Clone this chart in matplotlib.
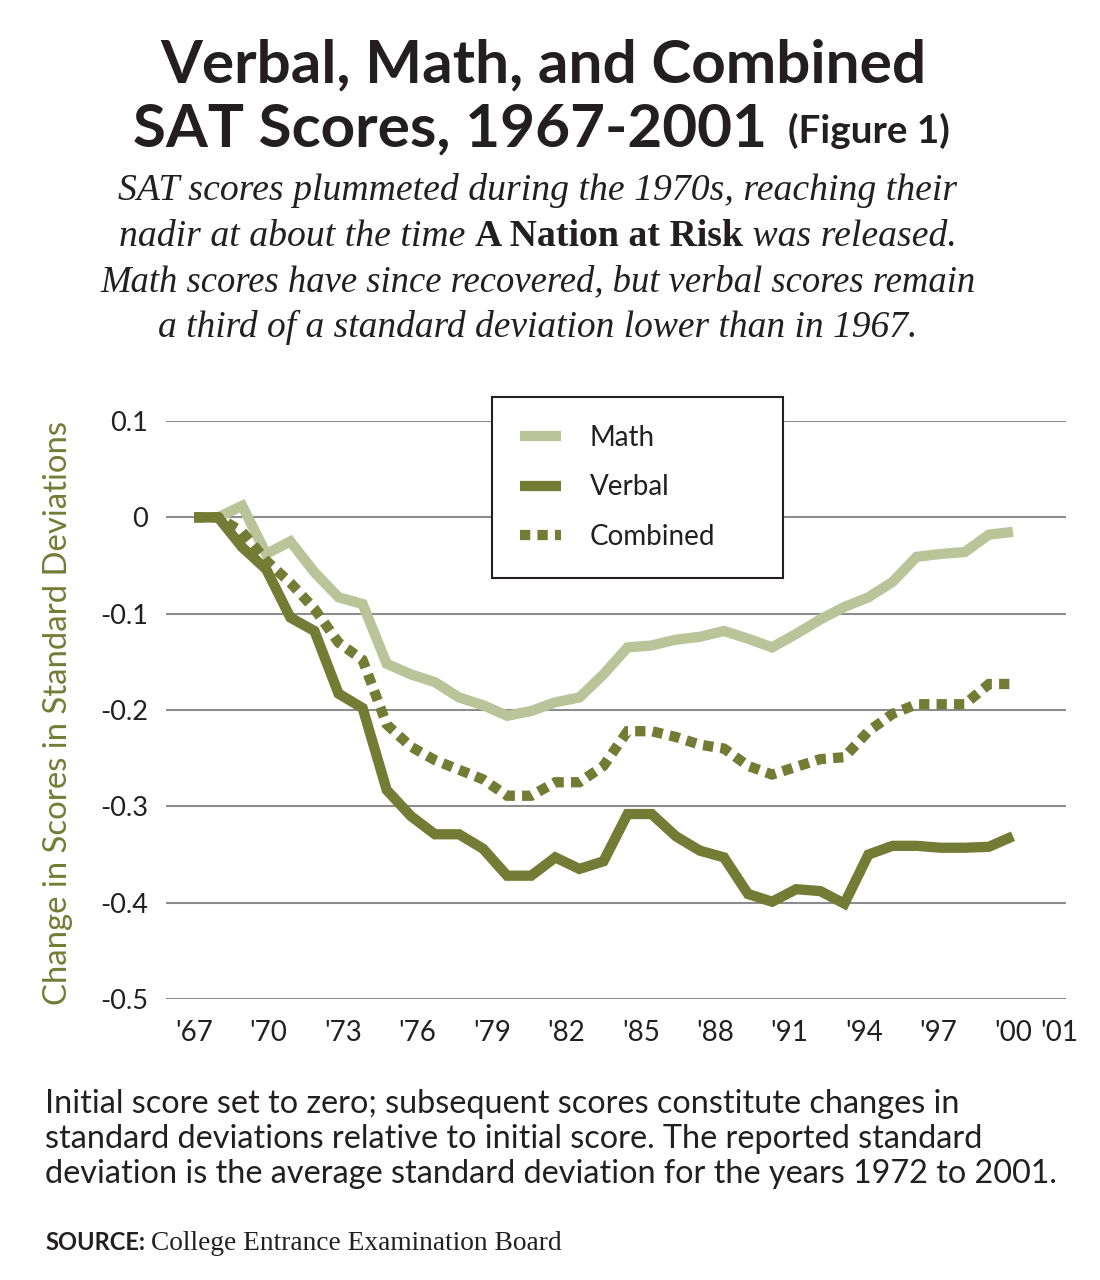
import numpy as np
import matplotlib
matplotlib.use("Agg")
import matplotlib.pyplot as plt
from matplotlib import font_manager as fm

# ---------------- data ----------------
years = list(range(1967, 2002))
math_sd = [0, 0, 0.012, -0.038, -0.025, -0.057, -0.083, -0.090, -0.152, -0.163,
           -0.171, -0.187, -0.195, -0.206, -0.201, -0.192, -0.187, -0.163, -0.135, -0.133,
           -0.127, -0.124, -0.118, -0.126, -0.135, -0.121, -0.106, -0.093, -0.083, -0.067,
           -0.041, -0.038, -0.036, -0.018, -0.015]
verbal_sd = [0, 0, -0.031, -0.054, -0.104, -0.118, -0.183, -0.198, -0.283, -0.310,
             -0.329, -0.329, -0.344, -0.372, -0.372, -0.353, -0.365, -0.357, -0.308, -0.308,
             -0.331, -0.346, -0.353, -0.391, -0.399, -0.386, -0.388, -0.401, -0.350, -0.341,
             -0.341, -0.343, -0.343, -0.342, -0.331]
combined_sd = [0, 0, -0.015, -0.045, -0.068, -0.095, -0.130, -0.148, -0.215, -0.238,
               -0.252, -0.262, -0.272, -0.289, -0.289, -0.275, -0.275, -0.258, -0.222, -0.222,
               -0.228, -0.236, -0.240, -0.258, -0.267, -0.259, -0.251, -0.249, -0.222, -0.204,
               -0.194, -0.194, -0.194, -0.173, -0.173]
series_names = ["Math", "Verbal", "Combined"]
x_tick_labels = ["'67", "'70", "'73", "'76", "'79", "'82", "'85", "'88", "'91", "'94", "'97", "'00", "'01"]
y_ticks = [0.1, 0, -0.1, -0.2, -0.3, -0.4, -0.5]
y_tick_labels = ["0.1", "0", "-0.1", "-0.2", "-0.3", "-0.4", "-0.5"]

# ---------------- fonts ----------------
def has_font(name):
    try:
        fm.findfont(fm.FontProperties(family=name), fallback_to_default=False)
        return True
    except Exception:
        return False

SANS = "Lato" if has_font("Lato") else "DejaVu Sans"
SERIF = "Liberation Serif" if has_font("Liberation Serif") else "DejaVu Serif"

INK = "#231f20"
OLIVE = "#737c34"
SAGE = "#bbc398"
GRID = "#8c8c8c"

W, H = 1100, 1280
fig = plt.figure(figsize=(W / 100, H / 100), dpi=100)
fig.patch.set_facecolor("white")

def fx(x):
    return x / W

def fy(y):
    return 1 - y / H

# ---------------- axes ----------------
ax_left, ax_right, ax_top, ax_bottom = 166, 1066, 421, 999
ax = fig.add_axes([fx(ax_left), fy(ax_bottom), (ax_right - ax_left) / W, (ax_bottom - ax_top) / H])
ppy = (1013 - 194) / (years[-1] - years[0])  # pixels per year
ax.set_xlim(years[0] - (194 - ax_left) / ppy, years[-1] + (ax_right - 1013) / ppy)
ax.set_ylim(-0.5, 0.1)

ax.plot(years, math_sd, color=SAGE, lw=7.4, solid_capstyle="butt", solid_joinstyle="miter",
        label=series_names[0], zorder=3)
ax.plot(years, verbal_sd, color=OLIVE, lw=7.4, solid_capstyle="butt", solid_joinstyle="miter",
        label=series_names[1], zorder=4)
ax.plot(years, combined_sd, color=OLIVE, lw=7.4, linestyle=(0, (1.0, 0.7)),
        dash_capstyle="butt", dash_joinstyle="miter", label=series_names[2], zorder=5)

for s in ax.spines.values():
    s.set_visible(False)
ax.set_yticks(y_ticks)
ax.set_yticklabels(y_tick_labels)
ax.yaxis.grid(True, color=GRID, lw=1.5)
ax.set_axisbelow(True)
ax.tick_params(axis="y", length=0, pad=13, labelsize=19.5, labelcolor=INK)
for lab in ax.get_yticklabels():
    lab.set_fontfamily(SANS)

tick_pos = list(np.linspace(years[0], years[-1], 12)) + [years[0] + (1059 - 194) / ppy]
ax.set_xticks(tick_pos)
ax.set_xticklabels(x_tick_labels)
ax.tick_params(axis="x", length=0, pad=15, labelsize=20, labelcolor=INK)
for lab in ax.get_xticklabels():
    lab.set_fontfamily(SANS)

leg = ax.legend(loc="upper left", mode="expand",
                bbox_to_anchor=(fx(492), fy(580), (783 - 492) / W, (580 - 397) / H),
                bbox_transform=fig.transFigure, borderaxespad=0,
                prop={"family": SANS, "size": 20}, handlelength=1.47, handletextpad=1.05,
                labelspacing=0.85, borderpad=1.0, frameon=True, fancybox=False, framealpha=1)
leg.get_frame().set_edgecolor(INK)
leg.get_frame().set_linewidth(1.5)
for t in leg.get_texts():
    t.set_color(INK)

fig.text(fx(58), fy(713), "Change in Scores in Standard Deviations", rotation=90,
         ha="center", va="center", color=OLIVE, fontsize=23.7, family=SANS)

# ---------------- texts ----------------
r = fig.canvas.get_renderer()

def wid(t):
    return t.get_window_extent(renderer=r).width

def fit(t, target):
    t.set_fontsize(t.get_fontsize() * target / wid(t))

# title
t1 = fig.text(fx(543), fy(82), "Verbal, Math, and Combined", ha="center", va="baseline",
              fontsize=48, weight="bold", family=SANS, color=INK)
fit(t1, 766)
t2 = fig.text(fx(133), fy(146), "SAT Scores, 1967-2001", ha="left", va="baseline",
              fontsize=t1.get_fontsize(), weight="bold", family=SANS, color=INK)
t3 = fig.text(fx(788), fy(143), "(Figure 1)", ha="left", va="baseline",
              fontsize=24, weight="bold", family=SANS, color=INK)
fit(t3, 162)

# subtitle
sub_lines = [
    [("SAT scores plummeted during the 1970s, reaching their", "italic", "normal")],
    [("nadir at about the time ", "italic", "normal"), ("A Nation at Risk", "normal", "bold"),
     (" was released.", "italic", "normal")],
    [("Math scores have since recovered, but verbal scores remain", "italic", "normal")],
    [("a third of a standard deviation lower than in 1967.", "italic", "normal")],
]
sub_widths = [840, 837, 875, 760]
sub_base = [200, 246, 291, 337]
sub_center = 538
for pieces, tw, yb in zip(sub_lines, sub_widths, sub_base):
    objs = [fig.text(0, fy(yb), s, ha="left", va="baseline", fontsize=26, style=st,
                     weight=wt, family=SERIF, color=INK) for s, st, wt in pieces]
    total = sum(wid(o) for o in objs)
    scale = tw / total
    for o in objs:
        o.set_fontsize(o.get_fontsize() * scale)
    widths = [wid(o) for o in objs]
    x = sub_center - sum(widths) / 2
    for o, w in zip(objs, widths):
        o.set_x(fx(x))
        x += w

# footnote
notes = ["Initial score set to zero; subsequent scores constitute changes in",
         "standard deviations relative to initial score. The reported standard",
         "deviation is the average standard deviation for the years 1972 to 2001."]
note_base = [1113, 1148, 1183]
nobjs = [fig.text(fx(45), fy(b), s, ha="left", va="baseline", fontsize=19, family=SANS, color=INK)
         for s, b in zip(notes, note_base)]
sc = 1013 / wid(nobjs[2])
for o in nobjs:
    o.set_fontsize(o.get_fontsize() * sc)

src1 = fig.text(fx(45), fy(1250), "SOURCE:", ha="left", va="baseline", fontsize=16,
                weight="bold", family=SANS, color=INK)
fit(src1, 100)
src2 = fig.text(fx(45 + wid(src1) + 6), fy(1250), "College Entrance Examination Board",
                ha="left", va="baseline", fontsize=17, family=SERIF, color=INK)
fit(src2, 410)

fig.savefig("out.png", dpi=100, facecolor="white")
